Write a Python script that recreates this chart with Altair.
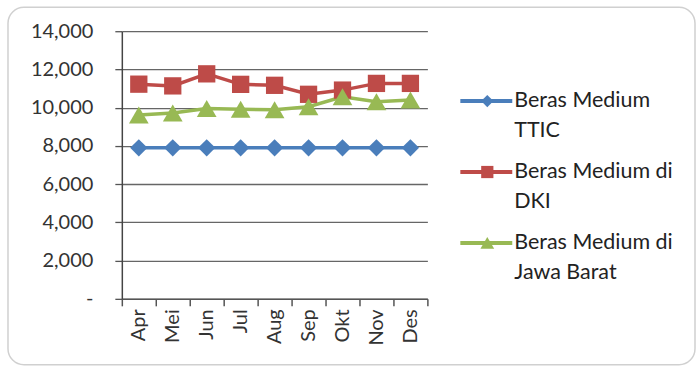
import altair as alt
import pandas as pd

months = ["Apr", "Mei", "Jun", "Jul", "Aug", "Sep", "Okt", "Nov", "Des"]
series_names = ["Beras Medium TTIC", "Beras Medium di DKI", "Beras Medium di Jawa Barat"]
legend_line1 = ["Beras Medium", "Beras Medium di", "Beras Medium di"]
legend_line2 = ["TTIC", "DKI", "Jawa Barat"]

ttic = [7900, 7900, 7900, 7900, 7900, 7900, 7900, 7900, 7900]
dki = [11230, 11140, 11770, 11220, 11170, 10700, 10920, 11270, 11270]
jabar = [9620, 9720, 9960, 9920, 9890, 10050, 10570, 10310, 10400]

y_ticks = [0, 2000, 4000, 6000, 8000, 10000, 12000, 14000]

colors = ["#4A7EBB", "#BE4B48", "#98B954"]
shapes = ["diamond", "square", "triangle-up"]
marker_sizes = [300, 300, 390]
legend_marker_sizes = [150, 150, 190]

rows = []
for name, vals in zip(series_names, [ttic, dki, jabar]):
    for m, v in zip(months, vals):
        rows.append({"month": m, "series": name, "value": v})
df = pd.DataFrame(rows)

legend_df = pd.DataFrame({"series": series_names, "line1": legend_line1, "line2": legend_line2})

FONT = "Lato"

color_scale = alt.Scale(domain=series_names, range=colors)
shape_scale = alt.Scale(domain=series_names, range=shapes)

x_enc = alt.X(
    "month:N", sort=months,
    scale=alt.Scale(type="band", paddingInner=0, paddingOuter=0),
    axis=alt.Axis(title=None, labelAngle=270, tickBand="extent", tickSize=7,
                  tickColor="#555555", domainColor="#555555", domainWidth=1.5,
                  tickWidth=1.5, labelPadding=3, labelFontSize=20, labelFont=FONT,
                  labelColor="#333333", grid=False),
)
y_enc = alt.Y(
    "value:Q",
    scale=alt.Scale(domain=[0, 14000], nice=False, zero=True),
    axis=alt.Axis(title=None, values=y_ticks, grid=True, gridColor="#666666",
                  gridWidth=1.3, tickSize=7, tickColor="#555555", tickWidth=1.3,
                  domainColor="#444444", domainWidth=1.5, labelPadding=22,
                  labelFontSize=20, labelFont=FONT, labelColor="#333333",
                  labelExpr="datum.value == 0 ? '-\u00a0\u00a0' : format(datum.value, ',')"),
)

border = alt.Chart(pd.DataFrame({"a": [0]})).mark_rect(
    fill="white", fillOpacity=0, stroke="#d0d0d0", strokeWidth=1.5, cornerRadius=16
).encode(
    x=alt.value(-114), x2=alt.value(574), y=alt.value(-24), y2=alt.value(334)
)

base = alt.Chart(df).encode(
    x=x_enc, y=y_enc,
    color=alt.Color("series:N", scale=color_scale, legend=None),
)
lines = base.mark_line(strokeWidth=3.5)
point_layers = [
    base.transform_filter(alt.datum.series == name)
    .mark_point(filled=True, opacity=1, size=sz)
    .encode(shape=alt.Shape("series:N", scale=shape_scale, legend=None))
    for name, sz in zip(series_names, marker_sizes)
]

main = alt.layer(border, lines, *point_layers).properties(width=306, height=268)

ly = alt.Y("series:N", sort=series_names, axis=None,
           scale=alt.Scale(type="point", padding=0, range=[70, 212]))
lbase = alt.Chart(legend_df).encode(y=ly)
lcolor = alt.Color("series:N", scale=color_scale, legend=None)
lrule = lbase.mark_rule(strokeWidth=4).encode(x=alt.value(0), x2=alt.value(52), color=lcolor)
lpoints = [
    lbase.transform_filter(alt.datum.series == name)
    .mark_point(filled=True, opacity=1, size=sz)
    .encode(x=alt.value(27), color=lcolor,
            shape=alt.Shape("series:N", scale=shape_scale, legend=None))
    for name, sz in zip(series_names, legend_marker_sizes)
]
ltext1 = lbase.mark_text(align="left", baseline="middle", font=FONT, fontSize=21.5).encode(
    x=alt.value(54), text="line1:N", color=alt.value("#222222"))
ltext2 = lbase.mark_text(align="left", baseline="middle", font=FONT, fontSize=21.5, dy=30).encode(
    x=alt.value(54), text="line2:N", color=alt.value("#222222"))
legend = alt.layer(lrule, *lpoints, ltext1, ltext2).properties(width=230, height=268)

chart = alt.hconcat(main, legend, spacing=33, bounds="flush").properties(
    padding={"left": 7, "top": 6, "right": 0, "bottom": 0}
).configure_view(stroke=None)

chart.save("out.html", embed_options={"renderer": "svg", "actions": False})
